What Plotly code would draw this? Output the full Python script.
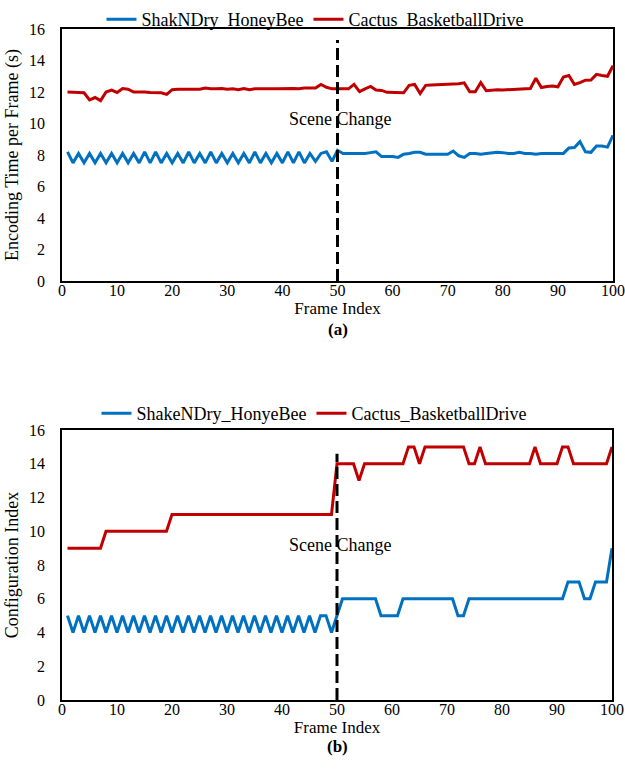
import plotly.graph_objects as go

frames = list(range(1, 101))

enc_honeybee = [8.2, 7.5, 8.1, 7.5, 8.1, 7.5, 8.1, 7.5, 8.1, 7.5,
                8.1, 7.5, 8.1, 7.5, 8.2, 7.5, 8.2, 7.5, 8.1, 7.5,
                8.1, 7.5, 8.2, 7.5, 8.1, 7.5, 8.2, 7.5, 8.1, 7.5,
                8.1, 7.5, 8.1, 7.5, 8.2, 7.5, 8.1, 7.5, 8.1, 7.5,
                8.2, 7.5, 8.2, 7.5, 8.1, 7.6, 8.1, 8.2, 7.6, 8.3,
                8.1, 8.1, 8.1, 8.1, 8.1, 8.15, 8.2, 7.9, 7.9, 7.9,
                7.85, 8.05, 8.1, 8.17, 8.17, 8.05, 8.05, 8.05, 8.05, 8.05,
                8.25, 7.95, 7.85, 8.1, 8.1, 8.05, 8.1, 8.15, 8.17, 8.15,
                8.1, 8.1, 8.17, 8.1, 8.1, 8.05, 8.1, 8.1, 8.1, 8.1,
                8.1, 8.45, 8.47, 8.85, 8.2, 8.17, 8.57, 8.57, 8.5, 9.25]

enc_cactus = [12.0, 11.98, 11.97, 11.95, 11.5, 11.65, 11.45, 12.0, 12.12, 11.97,
              12.22, 12.18, 12.0, 12.02, 12.0, 11.97, 11.95, 11.95, 11.85, 12.15,
              12.17, 12.17, 12.17, 12.2, 12.17, 12.25, 12.2, 12.2, 12.22, 12.17,
              12.2, 12.15, 12.22, 12.15, 12.2, 12.2, 12.22, 12.2, 12.2, 12.22,
              12.2, 12.22, 12.2, 12.25, 12.25, 12.25, 12.48, 12.3, 12.2, 12.2,
              12.2, 12.2, 12.48, 12.02, 12.2, 12.35, 12.12, 12.1, 11.98, 11.97,
              11.97, 11.95, 12.42, 12.48, 11.9, 12.42, 12.45, 12.47, 12.47, 12.47,
              12.5, 12.52, 12.58, 12.02, 12.02, 12.6, 12.08, 12.13, 12.15, 12.13,
              12.15, 12.18, 12.2, 12.22, 12.22, 12.87, 12.28, 12.35, 12.38, 12.33,
              12.95, 13.05, 12.48, 12.6, 12.75, 12.76, 13.12, 13.05, 13.0, 13.67]

cfg_honeybee = [5, 4, 5, 4, 5, 4, 5, 4, 5, 4,
                5, 4, 5, 4, 5, 4, 5, 4, 5, 4,
                5, 4, 5, 4, 5, 4, 5, 4, 5, 4,
                5, 4, 5, 4, 5, 4, 5, 4, 5, 4,
                5, 4, 5, 4, 5, 4, 5, 5, 4, 5,
                6, 6, 6, 6, 6, 6, 6, 5, 5, 5,
                5, 6, 6, 6, 6, 6, 6, 6, 6, 6,
                6, 5, 5, 6, 6, 6, 6, 6, 6, 6,
                6, 6, 6, 6, 6, 6, 6, 6, 6, 6,
                6, 7, 7, 7, 6, 6, 7, 7, 7, 9]

cfg_cactus = [9, 9, 9, 9, 9, 9, 9, 10, 10, 10,
              10, 10, 10, 10, 10, 10, 10, 10, 10, 11,
              11, 11, 11, 11, 11, 11, 11, 11, 11, 11,
              11, 11, 11, 11, 11, 11, 11, 11, 11, 11,
              11, 11, 11, 11, 11, 11, 11, 11, 11, 14,
              14, 14, 14, 13, 14, 14, 14, 14, 14, 14,
              14, 14, 15, 15, 14, 15, 15, 15, 15, 15,
              15, 15, 15, 14, 14, 15, 14, 14, 14, 14,
              14, 14, 14, 14, 14, 15, 14, 14, 14, 14,
              15, 15, 14, 14, 14, 14, 14, 14, 14, 15]

x_ticks = [0, 10, 20, 30, 40, 50, 60, 70, 80, 90, 100]
y_ticks = [0, 2, 4, 6, 8, 10, 12, 14, 16]
scene_frame = 50

BLUE = "#0070C0"
RED = "#C00000"
FONT = "Liberation Serif, Times New Roman, serif"

fig = go.Figure()
fig.add_trace(go.Scatter(x=frames, y=enc_honeybee, mode="lines", name="ShakNDry_HoneyBee",
                         line=dict(color=BLUE, width=3), xaxis="x", yaxis="y", legend="legend"))
fig.add_trace(go.Scatter(x=frames, y=enc_cactus, mode="lines", name="Cactus_BasketballDrive",
                         line=dict(color=RED, width=3), xaxis="x", yaxis="y", legend="legend"))
fig.add_trace(go.Scatter(x=frames, y=cfg_honeybee, mode="lines", name="ShakeNDry_HonyeBee",
                         line=dict(color=BLUE, width=3), xaxis="x2", yaxis="y2", legend="legend2"))
fig.add_trace(go.Scatter(x=frames, y=cfg_cactus, mode="lines", name="Cactus_BasketballDrive",
                         line=dict(color=RED, width=3), xaxis="x2", yaxis="y2", legend="legend2"))

W, H = 625, 778
def px_x(a, b):
    return [a / W, b / W]
def px_y(top, bottom):
    return [(H - bottom) / H, (H - top) / H]

tickfont = dict(family=FONT, size=16, color="#000")
titlefont = dict(family=FONT, size=17, color="#000")
xcommon = dict(showgrid=False, zeroline=False, showline=True, linecolor="#000000",
               linewidth=1.5, mirror=True, ticks="", tickfont=tickfont, ticklabelstandoff=-6)
ycommon = dict(showgrid=False, zeroline=False, showline=True, linecolor="#000000",
               linewidth=1.5, mirror=True, ticks="", tickfont=tickfont, ticklabelstandoff=12)

fig.update_layout(
    width=W, height=H, margin=dict(l=0, r=0, t=0, b=0, autoexpand=False),
    paper_bgcolor="white", plot_bgcolor="white",
    font=dict(family=FONT, size=16, color="#000"),
    xaxis=dict(domain=px_x(62, 613), anchor="y", range=[0, 100], tickvals=x_ticks,
               title=dict(text="Frame Index", font=titlefont, standoff=0), **xcommon),
    yaxis=dict(domain=px_y(29, 281), anchor="x", range=[0, 16], tickvals=y_ticks,
               title=dict(text="Encoding Time per Frame (s)", font=dict(family=FONT, size=18), standoff=6), **ycommon),
    xaxis2=dict(domain=px_x(62, 612), anchor="y2", range=[0, 100], tickvals=x_ticks,
                title=dict(text="Frame Index", font=titlefont, standoff=0), **xcommon),
    yaxis2=dict(domain=px_y(430, 700), anchor="x2", range=[0, 16], tickvals=y_ticks,
                title=dict(text="Configuration Index", font=dict(family=FONT, size=18), standoff=6), **ycommon),
    legend=dict(orientation="h", x=315 / W, xanchor="center", y=1 - 1 / H, yanchor="top",
                font=dict(family=FONT, size=18), bgcolor="rgba(0,0,0,0)", itemwidth=30),
    legend2=dict(orientation="h", x=314 / W, xanchor="center", y=1 - 395 / H, yanchor="top",
                 font=dict(family=FONT, size=18), bgcolor="rgba(0,0,0,0)", itemwidth=30),
    showlegend=True,
)

# scene change markers
fig.add_trace(go.Scatter(x=[scene_frame, scene_frame], y=[0, 15.3], mode="lines",
                         line=dict(color="black", width=3, dash="12px,5px"), showlegend=False,
                         xaxis="x", yaxis="y", hoverinfo="skip"))
fig.add_trace(go.Scatter(x=[scene_frame, scene_frame], y=[0, 14.6], mode="lines",
                         line=dict(color="black", width=3, dash="12px,5px"), showlegend=False,
                         xaxis="x2", yaxis="y2", hoverinfo="skip"))

fig.add_annotation(x=scene_frame + 0.5, y=10.3, xref="x", yref="y", text="Scene Change",
                   showarrow=False, font=dict(family=FONT, size=18, color="#000"))
fig.add_annotation(x=scene_frame + 0.5, y=9.2, xref="x2", yref="y2", text="Scene Change",
                   showarrow=False, font=dict(family=FONT, size=18, color="#000"))

fig.add_annotation(x=338 / W, y=1 - 329 / H, xref="paper", yref="paper", text="<b>(a)</b>",
                   showarrow=False, font=dict(family=FONT, size=17, color="#000"))
fig.add_annotation(x=338 / W, y=1 - 758 / H, xref="paper", yref="paper", text="<b>(b)</b>",
                   showarrow=False, font=dict(family=FONT, size=17, color="#000"))

fig.write_html("out.html")
